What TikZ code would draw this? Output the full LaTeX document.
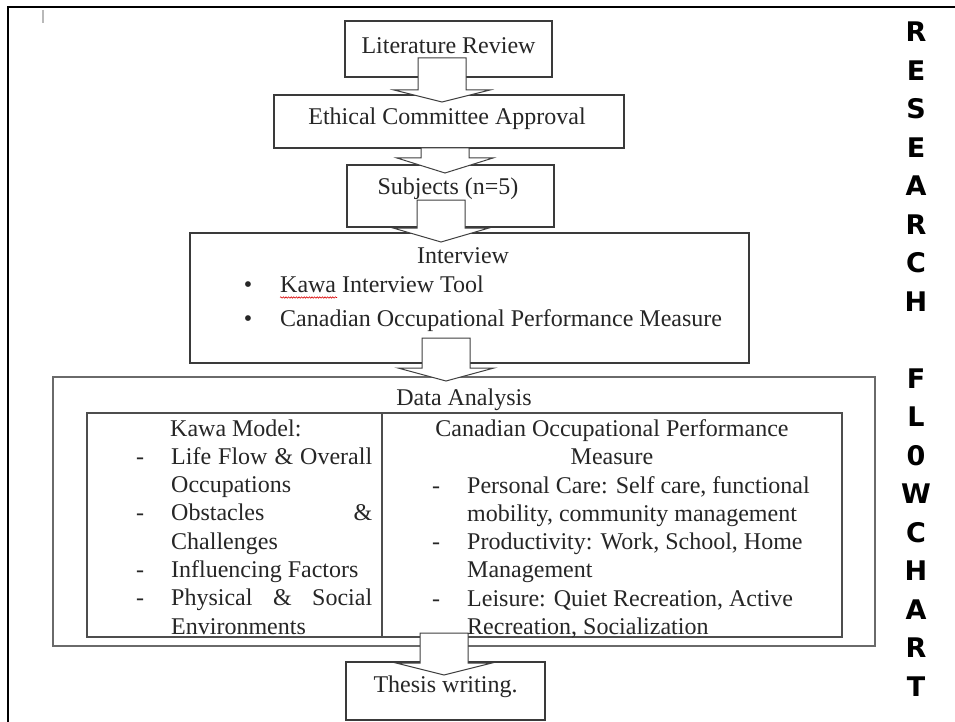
\documentclass[tikz,border=0pt]{standalone}
\usepackage{fontspec}
\setmainfont{Liberation Serif}
\newfontfamily\headfont{DejaVu Sans}
\usetikzlibrary{decorations.pathmorphing}
\definecolor{boxline}{HTML}{3A3A3A}
\definecolor{outerline}{HTML}{6A6A6A}
\definecolor{ink}{HTML}{262626}
\definecolor{arrline}{HTML}{404040}
\newcommand\blockarr[3]{\draw[arrowshape] (#1) ++(-24,0) -- ++(0,#2) -- ++(-24,0) -- ++(48,#3) -- ++(48,-#3) -- ++(-24,0) -- ++(0,-#2) -- cycle;}
\newcommand\itemmark[1]{\leavevmode\llap{#1\hspace{27pt}}}
\begin{document}
\begin{tikzpicture}[x=1pt,y=-1pt,
  box/.style={draw=boxline, line width=1.2pt, fill=white, inner sep=0pt},
  outerbox/.style={draw=outerline, line width=1.8pt, fill=white, inner sep=0pt},
  cell/.style={draw=boxline!90, line width=1.4pt, inner sep=0pt},
  arrowshape/.style={draw=arrline, line width=1pt, fill=white, line join=miter},
  txt/.style={inner sep=0pt, text=ink, font=\fontsize{24}{28.3}\selectfont}]
\useasboundingbox (0,0) rectangle (955,722);
% page frame
\draw[line width=2.6pt] (8,722) -- (8,7) -- (955,7);
\draw[gray!55, line width=2pt] (43,10) -- (43,23);
% boxes
\node[box, minimum width=207pt, minimum height=56pt] (lr) at (448.5,49) {};
\node[box, minimum width=350pt, minimum height=53pt] (eca) at (449,121.5) {};
\node[box, minimum width=207pt, minimum height=62pt] (subj) at (450.5,196) {};
\node[box, minimum width=559pt, minimum height=130pt] (intv) at (469.5,298) {};
\node[outerbox, minimum width=822pt, minimum height=269pt] (da) at (464,511.5) {};
\node[cell, minimum width=295pt, minimum height=224pt] (kawacell) at (234.5,525) {};
\node[cell, minimum width=460pt, minimum height=224pt] (copmcell) at (612,525) {};
\node[box, minimum width=199pt, minimum height=58pt] (thesis) at (445.5,691) {};
% block arrows
\coordinate (a1) at (442,58);
\coordinate (a2) at (445,148);
\coordinate (a3) at (441,200);
\coordinate (a4) at (446,338);
\coordinate (a5) at (444,633);
\blockarr{a1}{32}{12}
\blockarr{a2}{10}{15}
\blockarr{a3}{28}{14}
\blockarr{a4}{30}{13}
\blockarr{a5}{30}{12}
% texts
\node[txt, anchor=base] (lrt) at (448.5,54) {Literature Review};
\node[txt, anchor=base] (ecat) at (447,125) {Ethical Committee Approval};
\node[txt, anchor=base] (subjt) at (448,195) {Subjects (n=5)};
\node[txt, anchor=base] (intvt) at (463,263) {Interview};
\node[txt, anchor=base west] (intvl) at (280,292) {\parbox[t]{460pt}{\fontsize{24}{34}\selectfont
  \leavevmode\llap{\textbullet\hspace{28pt}}Kawa Interview Tool\\
  \leavevmode\llap{\textbullet\hspace{28pt}}Canadian Occupational Performance Measure}};
\draw[red!85!black, line width=0.6pt, decorate, decoration={snake, amplitude=0.7pt, segment length=2.6pt}] (280,297.5) -- (337,297.5);
\node[txt, anchor=base] (dat) at (464,405) {Data Analysis};
\node[txt, anchor=base west] (kawal) at (171,436) {\parbox[t]{230pt}{\fontsize{24}{28.3}\selectfont
  \hspace*{-1pt}Kawa Model:\\
  \itemmark{-}\makebox[201pt][s]{Life Flow \& Overall}\\
  Occupations\\
  \itemmark{-}\makebox[201pt][s]{Obstacles \&}\\
  Challenges\\
  \itemmark{-}Influencing Factors\\
  \itemmark{-}\makebox[201pt][s]{Physical \& Social}\\
  Environments}};
\node[txt, anchor=base] (copmt) at (612,436) {\parbox[t]{460pt}{\fontsize{24}{28.3}\selectfont\centering
  Canadian Occupational Performance\\ Measure}};
\node[txt, anchor=base west] (copml) at (467,493) {\parbox[t]{380pt}{\fontsize{24}{28.3}\selectfont
  \itemmark{-}Personal Care: Self care, functional\\
  mobility, community management\\
  \itemmark{-}Productivity: Work, School, Home\\
  Management\\
  \itemmark{-}Leisure: Quiet Recreation, Active\\
  Recreation, Socialization}};
\node[txt, anchor=base] (thesist) at (445.5,692) {Thesis writing.};
% vertical title
\node[inner sep=0pt, anchor=base, text=black] (vtitle) at (916,42) {\parbox[t]{40pt}{\headfont\bfseries\fontsize{27}{38.5}\selectfont\centering
  R\\E\\S\\E\\A\\R\\C\\H\\[38.5pt]F\\L\\0\\W\\C\\H\\A\\R\\T}};
\end{tikzpicture}
\end{document}
